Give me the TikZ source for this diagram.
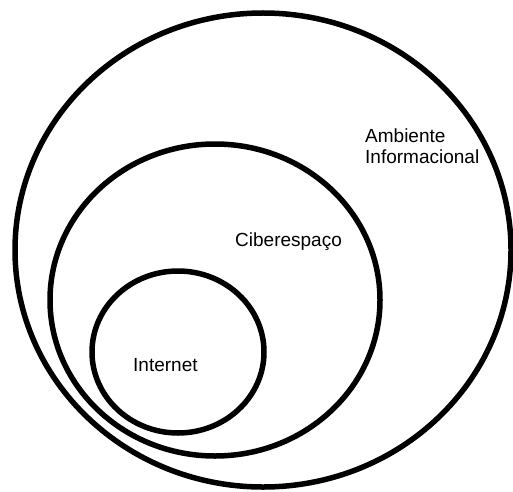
\documentclass[tikz,border=0pt]{standalone}
\usepackage{fontspec}
\setmainfont{Liberation Sans}
\usepackage{tikz}

\begin{document}
\begin{tikzpicture}[x=1pt,y=1pt]
% styles
\tikzset{ring/.style={line width=5.5pt,black},
         lbl/.style={anchor=base west,inner sep=0pt,font=\fontsize{19}{21}\selectfont}}
\useasboundingbox (0,0) rectangle (513,491);
% the three nested rings -- outer, middle, inner
\foreach \cx/\cy/\rx/\ry in {263/241/248/237, 215/191/165/156, 178/139/86/81} {
\draw [ring] (\cx,\cy) ellipse [x radius=\rx, y radius=\ry];
}
% the labels
\node [lbl] (ambiente) at (365,349) {Ambiente};
\node [lbl] (informacional) at (365,328) {Informacional};
\node [lbl] (ciberespaco) at (235,245) {Ciberespaço};
\node [lbl] (internet) at (133,120) {Internet};
\end{tikzpicture}
\end{document}
